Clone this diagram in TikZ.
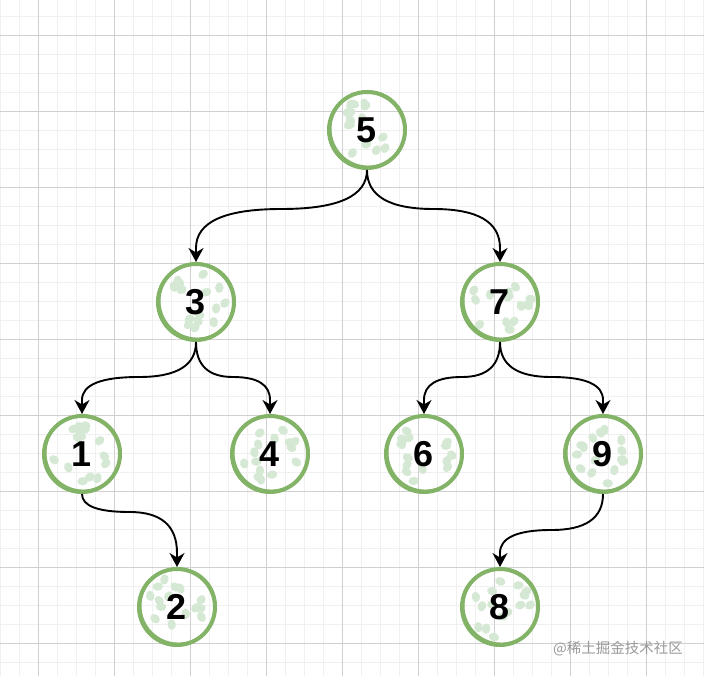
\documentclass[tikz,border=0pt]{standalone}
\usepackage{fontspec}
\setmainfont{Liberation Sans}
\newfontfamily\cjkfont{Noto Sans CJK SC}
\usetikzlibrary{arrows.meta,calc}
\definecolor{gstroke}{HTML}{82B366}
\definecolor{gblob}{HTML}{D5E8D4}
\definecolor{gridminor}{HTML}{F0F0F0}
\definecolor{gridmajor}{HTML}{D0D0D0}
\tikzset{
  tnode/.style={circle, draw=gstroke, line width=4pt, minimum size=76pt, inner sep=0pt,
    font=\bfseries\fontsize{36}{36}\selectfont, text=black},
  sketch/.style={draw=gstroke, line width=1.6pt},
  blob/.style={fill=gblob},
  edge/.style={draw=black, line width=1.9pt, -{Stealth[length=14pt,width=15pt,inset=4.5pt]}},
}
\newcommand\mytreenode[4]{%
  \foreach \k in {1,...,15}{%
    \pgfmathsetmacro\ang{rnd*360}%
    \pgfmathsetmacro\rr{8+sqrt(rnd)*23}%
    \pgfmathsetmacro\rot{rnd*180}%
    \fill[blob, rotate around={\rot:($(#2,#3)+(\ang:\rr)$)}] ($(#2,#3)+(\ang:\rr)$) ellipse (5.2 and 4.2);
  }
  \node[tnode] (#1) at (#2,#3) {#4};
  \draw[sketch] (#2+1.3,#3-1.2) circle (37.6);
}
% drawio-like curved orthogonal edge: two true quadratic segments
\newcommand\myedge[5]{%
  \pgfmathsetmacro\mx{(#3+#4)/2}%
  \coordinate (qa) at (#3,#5);
  \coordinate (qb) at (#4,#5);
  \coordinate (qm) at (\mx,#5);
  \coordinate (qs) at (#1.south);
  \coordinate (qe) at ($(#2.north)+(0,-14)$);
  \draw[edge] (qs) .. controls ($(qs)!2/3!(qa)$) and ($(qm)!2/3!(qa)$) .. (qm)
     .. controls ($(qm)!2/3!(qb)$) and ($(qe)!2/3!(qb)$) .. (qe) -- (#2.north);
}
\begin{document}
\begin{tikzpicture}[x=1pt,y=-1pt]
\useasboundingbox (0,0) rectangle (704,676);
\fill[white] (0,0) rectangle (704,676);
% grid
\foreach \gx in {0,19,...,704} \draw[gridminor, line width=0.8pt] (\gx,0) -- (\gx,676);
\foreach \gy in {16,35,...,676} \draw[gridminor, line width=0.8pt] (0,\gy) -- (704,\gy);
\foreach \gx in {38,114,...,704} \draw[gridmajor, line width=0.9pt] (\gx,0) -- (\gx,676);
\foreach \gy in {35,111,...,676} \draw[gridmajor, line width=0.9pt] (0,\gy) -- (704,\gy);
\pgfmathsetseed{11}
\mytreenode{n5}{367}{130}{5}
\mytreenode{n3}{196}{302}{3}
\mytreenode{n7}{500}{302}{7}
\mytreenode{n1}{82}{454}{1}
\mytreenode{n4}{270}{454}{4}
\mytreenode{n6}{424}{454}{6}
\mytreenode{n9}{603}{454}{9}
\mytreenode{n2}{177}{607}{2}
\mytreenode{n8}{500}{607}{8}
\myedge{n5}{n3}{367}{196}{209}
\myedge{n5}{n7}{367}{500}{209}
\myedge{n3}{n1}{196}{82}{377}
\myedge{n3}{n4}{196}{270}{377}
\myedge{n7}{n6}{500}{424}{377}
\myedge{n7}{n9}{500}{603}{377}
\myedge{n1}{n2}{82}{177}{512}
\myedge{n9}{n8}{603}{500}{530}
\node[anchor=west, inner sep=0pt, text=black!40, font=\cjkfont\fontsize{14.5}{14.5}\selectfont] (wm) at (553,649) {@稀土掘金技术社区};
\end{tikzpicture}
\end{document}
